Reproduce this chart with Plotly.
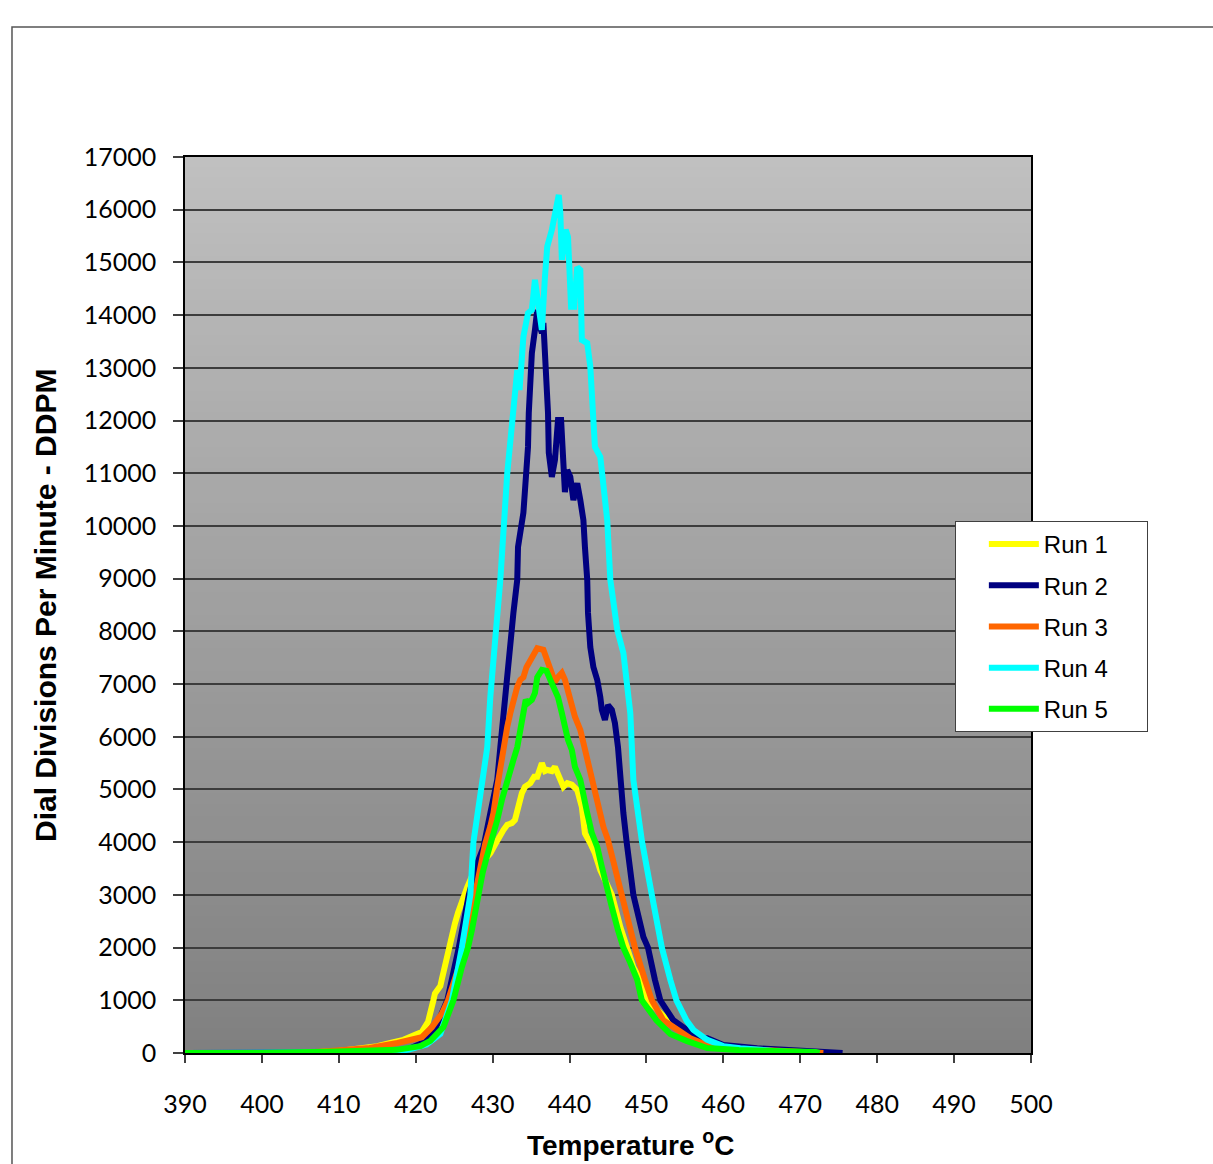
import plotly.graph_objects as go

# ---------------- data ----------------
run1_t = [390, 405, 410, 412.8, 415, 416.7, 418.4, 420, 420.8, 421.6, 422.1, 422.3, 422.5, 423.2, 423.4, 423.6,
          424.2, 424.7, 425.1, 425.5, 426.2, 426.7, 427.5, 428.1, 428.8, 429.7, 430.3, 430.8, 431.4, 431.9,
          432.5, 432.9, 433.3, 433.8, 434.2, 434.9, 435.4, 435.8, 436.4, 436.8, 437.1, 437.7, 438.1, 438.5,
          439, 439.2, 439.7, 440.3, 441, 441.6, 441.8, 442, 442.7, 443.3, 444, 445.5, 446.6, 447.4, 448.3,
          449.2, 450.2, 451.4, 452.7, 454.4, 456.1, 458, 462, 468, 470]
run1_v = [0, 0, 40, 90, 130, 190, 250, 350, 400, 590, 820, 1000, 1130, 1270, 1400, 1520,
          2000, 2250, 2460, 2660, 3000, 3150, 3420, 3530, 3660, 3790, 3950, 4100, 4230, 4330,
          4360, 4420, 4670, 4930, 5050, 5120, 5240, 5240, 5500, 5350, 5370, 5350, 5430, 5310,
          5120, 5050, 5120, 5090, 4990, 4670, 4420, 4170, 3980, 3790, 3470, 3000, 2390, 2000, 1630,
          1390, 1000, 820, 630, 440, 300, 180, 90, 40, 0]

run2_t = [390, 410, 416, 419, 421, 422.5, 424.1, 425.6, 426.9, 428.0, 428.8, 429.7, 430.6, 431, 431.4, 431.9,
          432.3, 432.7, 433.2, 433.3, 434, 434.6, 434.7, 434.9, 435.1, 435.5, 435.8, 436.0, 436.4, 436.6,
          436.8, 437.1, 437.2, 437.3, 437.7, 438.1, 438.5, 438.9, 439.2, 439.4, 439.7, 440.1, 440.5, 441,
          441.4, 441.8, 442, 442.3, 442.4, 442.7, 443.1, 443.6, 444, 444.2, 444.6, 445, 445.5, 445.9, 446.3,
          446.6, 447, 447.4, 448.3, 449.6, 450.2, 451.1, 451.8, 453.5, 455.2, 456.6, 457.9, 460, 464.4,
          470, 475, 475.5]
run2_v = [0, 0, 20, 70, 200, 450, 1000, 2000, 3000, 3600, 3900, 4550, 5180, 5800, 6450, 7080,
          7700, 8350, 8980, 9600, 10250, 11500, 12140, 12640, 13280, 13720, 14100, 13850, 13660, 13850,
          13210, 12770, 12140, 11390, 10930, 11250, 12010, 12010, 10870, 10640, 11060, 10930, 10490, 10810,
          10490, 10110, 9600, 8980, 8350, 7700, 7320, 7080, 6750, 6510, 6320, 6600, 6510, 6260, 5800,
          5180, 4550, 4030, 3000, 2200, 2000, 1390, 1000, 620, 430, 300, 280, 150, 90,
          50, 20, 0]

run3_t = [390, 405, 408.9, 414, 417.6, 420.8, 422.1, 423.4, 424.2, 426.4, 427.7, 429, 429.7, 430.1, 430.6,
          431, 431.4, 431.9, 432.3, 432.7, 433.2, 433.6, 434, 434.4, 435.1, 435.8, 436.6, 437.1, 437.7,
          438.1, 438.5, 439, 439.4, 439.8, 440.3, 440.7, 441.4, 441.8, 442.3, 442.9, 443.7, 444.4, 445.0,
          445.7, 446.8, 447.5, 448.5, 449.8, 450.7, 452.2, 454.4, 455.7, 457.9, 462.2, 468, 472.6, 473]
run3_v = [0, 0, 40, 95, 190, 300, 490, 750, 1000, 2000, 3000, 3950, 4300, 4550, 5050,
          5430, 5800, 6190, 6450, 6700, 6950, 7080, 7130, 7320, 7510, 7680, 7650, 7460, 7210,
          7040, 7130, 7210, 7080, 6830, 6510, 6380, 6130, 5880, 5560, 5180, 4670, 4290, 4040,
          3610, 3000, 2500, 2000, 1390, 1000, 620, 390, 280, 150, 75, 40, 20, 0]

run4_t = [390, 410, 416, 419, 421.4, 423.2, 424.7, 426.0, 427.1, 427.5, 428.4, 429.3, 429.7, 430.6, 431,
          431.9, 432.7, 433.2, 433.5, 434, 434.6, 435.1, 435.5, 435.9, 436.4, 436.8, 437.1, 437.7, 438.1,
          438.6, 438.8, 439, 439.5, 439.8, 440.2, 440.6, 441, 441.4, 441.6, 442.3, 442.7, 443.1, 443.3,
          444, 444.4, 444.6, 444.9, 445.3, 446.2, 447, 447.9, 448.3, 449.4, 450.7, 452, 453.1, 453.9,
          455.2, 456.1, 457.9, 460, 462.2, 465, 470]
run4_v = [0, 0, 20, 60, 160, 360, 1000, 2000, 3000, 4000, 4930, 5800, 6760, 8350, 8980,
          11000, 12140, 12960, 12580, 13590, 14040, 14100, 14670, 14300, 13720, 14720, 15300, 15620, 15860,
          16280, 15940, 15050, 15620, 15480, 14160, 14160, 14910, 14860, 13530, 13470, 13020, 12140, 11500,
          11310, 10870, 10550, 10110, 8980, 8030, 7590, 6450, 5180, 4030, 3000, 2000, 1390, 1000,
          620, 440, 250, 130, 90, 50, 0]

run5_t = [390, 400, 410, 417.5, 420.6, 421.9, 423.6, 424.9, 426.0, 426.8, 427.3, 428.1, 428.7, 429.2, 429.9,
          430.6, 431.2, 431.9, 432.3, 432.7, 433.2, 433.6, 434, 434.3, 434.6, 435.1, 435.5, 435.8, 436.4,
          437.0, 437.5, 438.1, 438.5, 439, 439.4, 439.8, 440.3, 440.7, 441.4, 441.8, 442.3, 442.9, 443.3,
          443.6, 444.2, 445, 445.5, 446.3, 447, 447.9, 448.8, 449.4, 450.4, 451.3, 453.1, 455.2, 457.9,
          462, 472, 472.5]
run5_v = [0, 0, 30, 60, 130, 230, 490, 1000, 1630, 2000, 2330, 3000, 3420, 3700, 4030,
          4420, 4800, 5180, 5430, 5560, 5800, 6130, 6450, 6700, 6640, 6700, 6830, 7130, 7270,
          7250, 7080, 6890, 6750, 6450, 6130, 5940, 5750, 5430, 5180, 4860, 4550, 4170, 4030,
          3910, 3530, 3000, 2770, 2330, 2000, 1710, 1390, 1000, 800, 620, 360, 230, 95,
          55, 20, 0]

run_names = ["Run 1", "Run 2", "Run 3", "Run 4", "Run 5"]
run_colors = ["#FFFF00", "#000080", "#FF6600", "#00FFFF", "#00FF00"]
run_t = [run1_t, run2_t, run3_t, run4_t, run5_t]
run_v = [run1_v, run2_v, run3_v, run4_v, run5_v]

x_range = [390, 500]
y_range = [0, 17000]

# ---------------- figure ----------------
fig = go.Figure()
for i in range(5):
    fig.add_trace(go.Scatter(
        x=run_t[i], y=run_v[i], mode="lines",
        name=run_names[i] + "&nbsp;" * 5,
        legendgroup=run_names[i],
        line=dict(color=run_colors[i], width=6, shape="linear"),
        hoverinfo="skip",
    ))

# vertical gradient background of the plot area
shapes = []
nb = 80
top_c, bot_c = 192, 128
for k in range(nb):
    f = (k + 0.5) / nb
    c = round(top_c + (bot_c - top_c) * f)
    shapes.append(dict(type="rect", xref="x domain", yref="y domain",
                       x0=0, x1=1, y0=1 - (k + 1) / nb, y1=1 - k / nb + 0.002,
                       fillcolor=f"rgb({c},{c},{c})", line=dict(width=0), layer="below"))
# outer chart frame
shapes.append(dict(type="rect", xref="paper", yref="paper",
                   x0=-0.2045, x1=1.4, y0=-0.3, y1=1.1451,
                   line=dict(color="#555555", width=1.5), fillcolor="rgba(0,0,0,0)", layer="above"))

W, H = 1213, 1164
fig.update_layout(
    width=W, height=H,
    margin=dict(l=185, r=182, t=157, b=111),
    paper_bgcolor="white",
    plot_bgcolor="rgba(0,0,0,0)",
    shapes=shapes,
    showlegend=True,
    legend=dict(
        x=0.910, y=0.5938, xanchor="left", yanchor="top",
        bgcolor="white", bordercolor="#404040", borderwidth=1,
        font=dict(family="Liberation Sans, Arial, sans-serif", size=24, color="black"),
        tracegroupgap=7, traceorder="grouped",
        indentation=28, itemwidth=50,
    ),
    annotations=[
        dict(text="<b>Temperature <sup>o</sup>C</b>", xref="paper", yref="paper",
             x=0.527, y=-0.101, showarrow=False, xanchor="center", yanchor="middle",
             font=dict(family="Liberation Sans, Arial, sans-serif", size=28, color="black")),
        dict(text="<b>Dial Divisions Per Minute - DDPM</b>", xref="paper", yref="paper",
             x=-0.1655, y=0.5, showarrow=False, textangle=-90, xanchor="center", yanchor="middle",
             font=dict(family="Liberation Sans, Arial, sans-serif", size=30, color="black")),
    ],
)
fig.update_xaxes(
    range=x_range, dtick=10, tick0=390, showgrid=False, zeroline=False,
    showline=True, linecolor="black", linewidth=1.5, mirror=True,
    ticks="outside", ticklen=8, tickcolor="#404040", tickwidth=1.5,
    ticklabelstandoff=20, tickformat="d",
    tickfont=dict(family="Lato, sans-serif", size=25, color="black"),
)
fig.update_yaxes(
    range=y_range, dtick=1000, tick0=0, showgrid=True, gridcolor="#3c3c3c", gridwidth=2,
    zeroline=False, showline=True, linecolor="black", linewidth=1.5, mirror=True,
    ticks="outside", ticklen=10, tickcolor="#404040", tickwidth=1.5,
    ticklabelstandoff=12, tickformat="d",
    tickfont=dict(family="Lato, sans-serif", size=25, color="black"),
)

fig.write_html("out.html", config={"displayModeBar": False},
               post_script="document.body.style.margin='0';")
